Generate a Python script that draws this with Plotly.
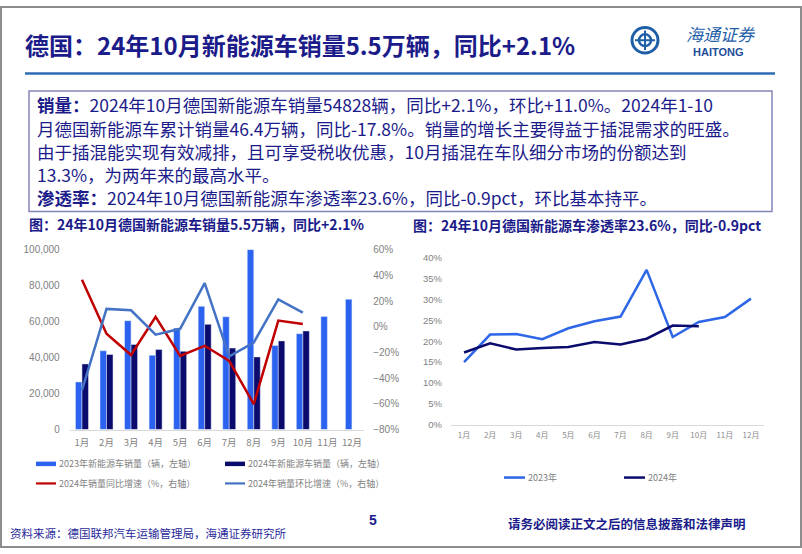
import plotly.graph_objects as go

# ---------------- data ----------------
months = ["1月", "2月", "3月", "4月", "5月", "6月", "7月", "8月", "9月", "10月", "11月", "12月"]
sales_2023 = [26500, 43800, 60500, 41300, 56400, 68500, 62700, 100000, 46700, 53300, 62900, 72400]
sales_2024 = [36500, 41800, 47300, 44500, 43500, 58500, 45300, 40400, 49300, 54828]
yoy_2024 = [0.366, -0.054, -0.22, 0.078, -0.227, -0.148, -0.265, -0.601, 0.048, 0.021]
mom_2024 = [-0.494, 0.139, 0.128, -0.062, -0.016, 0.34, -0.23, -0.123, 0.213, 0.11]
pen_2023 = [0.150, 0.216, 0.217, 0.205, 0.231, 0.248, 0.259, 0.371, 0.210, 0.246, 0.258, 0.302]
pen_2024 = [0.173, 0.195, 0.180, 0.184, 0.186, 0.198, 0.192, 0.206, 0.2375, 0.236]

left_ticks = [0, 20000, 40000, 60000, 80000, 100000]
right_ticks = [-0.8, -0.6, -0.4, -0.2, 0, 0.2, 0.4, 0.6]
pen_ticks = [0, 0.05, 0.10, 0.15, 0.20, 0.25, 0.30, 0.35, 0.40]

legend1 = ["2023年新能源车销量（辆，左轴）", "2024年新能源车销量（辆，左轴）",
           "2024年销量同比增速（%，右轴）", "2024年销量环比增速（%，右轴）"]
legend2 = ["2023年", "2024年"]

# ---------------- styles ----------------
W, H = 802, 554
C_BLUE = "#2B63F0"
C_NAVY = "#0B0B6E"
C_RED = "#C00000"
C_STEEL = "#4472C4"
C_P23 = "#2D66E6"
NAVY_TXT = "#1B1B8A"
GREY_TXT = "#7F7F7F"
FONT = "Liberation Sans, Noto Sans CJK SC"
CJK = "Noto Sans CJK SC, Liberation Sans"


def px(x):
    return x / W


def py(y):
    return (H - y) / H


fig = go.Figure()

# chart 1 bars
fig.add_trace(go.Bar(x=months, y=sales_2023, name=legend1[0], marker_color=C_BLUE,
                     xaxis="x", yaxis="y", showlegend=False))
fig.add_trace(go.Bar(x=months[:len(sales_2024)], y=sales_2024, name=legend1[1], marker_color=C_NAVY,
                     xaxis="x", yaxis="y", showlegend=False))
# chart 1 lines
fig.add_trace(go.Scatter(x=months[:len(yoy_2024)], y=yoy_2024, name=legend1[2], mode="lines",
                         line=dict(color=C_RED, width=2.5), xaxis="x", yaxis="y2", showlegend=False))
fig.add_trace(go.Scatter(x=months[:len(mom_2024)], y=mom_2024, name=legend1[3], mode="lines",
                         line=dict(color=C_STEEL, width=2.5), xaxis="x", yaxis="y2", showlegend=False))
# chart 2 lines
fig.add_trace(go.Scatter(x=months, y=pen_2023, name=legend2[0], mode="lines",
                         line=dict(color=C_P23, width=2.5), xaxis="x3", yaxis="y3", showlegend=False))
fig.add_trace(go.Scatter(x=months[:len(pen_2024)], y=pen_2024, name=legend2[1], mode="lines",
                         line=dict(color=C_NAVY, width=2.5), xaxis="x3", yaxis="y3", showlegend=False))

tickfont = dict(family=FONT, size=10, color=GREY_TXT)

fig.update_layout(
    width=W, height=H,
    margin=dict(l=0, r=0, t=0, b=0),
    paper_bgcolor="white", plot_bgcolor="rgba(0,0,0,0)",
    barmode="group", bargap=0.47, bargroupgap=0,
    xaxis=dict(domain=[px(69.7), px(364.2)], anchor="y", type="category",
               categoryorder="array", categoryarray=months, range=[-0.5, 11.5],
               showline=True, linecolor="#D9D9D9", linewidth=1, ticks="",
               showgrid=False, tickfont=dict(family=CJK, size=9.5, color=GREY_TXT),
               ticklabelstandoff=4, fixedrange=True),
    yaxis=dict(domain=[py(433), py(249)], range=[0, 100000], tickvals=left_ticks,
               tickformat=",", showgrid=False, zeroline=False, showline=False, ticks="",
               tickfont=tickfont, ticklabelstandoff=9),
    yaxis2=dict(domain=[py(433), py(249)], range=[-0.8, 0.6], tickvals=right_ticks,
                tickformat=".0%", overlaying="y", side="right", anchor="x",
                showgrid=False, zeroline=False, showline=False, ticks="",
                tickfont=tickfont, ticklabelstandoff=8),
    xaxis3=dict(domain=[px(451), px(764)], anchor="y3", type="category",
                categoryorder="array", categoryarray=months, range=[-0.5, 11.5],
                showline=True, linecolor="#D9D9D9", linewidth=1, ticks="", showgrid=False,
                tickfont=dict(family=CJK, size=8, color="#8C8C8C"), ticklabelstandoff=3),
    yaxis3=dict(domain=[py(428), py(257.3)], anchor="x3", range=[0, 0.4], tickvals=pen_ticks,
                tickformat=".0%", showgrid=False, zeroline=False, showline=False, ticks="",
                tickfont=dict(family=FONT, size=9.5, color=GREY_TXT), ticklabelstandoff=8),
)

shapes = []
ann = []


def text(t, x, y, size, color, anchor="left", family=CJK):
    ann.append(dict(text=t, x=px(x), y=py(y), xref="paper", yref="paper", xanchor=anchor,
                    yanchor="middle", showarrow=False, font=dict(family=family, size=size, color=color)))


def line(x0, y0, x1, y1, color, width):
    shapes.append(dict(type="line", xref="paper", yref="paper", x0=px(x0), x1=px(x1), y0=py(y0), y1=py(y1),
                       line=dict(color=color, width=width)))


# slide frame
shapes.append(dict(type="rect", xref="paper", yref="paper", x0=px(1), x1=px(801), y0=py(553), y1=py(1),
                   line=dict(color="#8C8C8C", width=2)))
# header rule
line(25, 69, 775, 69, "#2E6DB4", 2.5)
# text box
shapes.append(dict(type="rect", xref="paper", yref="paper", x0=px(29), x1=px(772), y0=py(210), y1=py(87),
                   line=dict(color="#8585B8", width=1.5)))

# title
text("<b>德国：24年10月新能源车销量5.5万辆，同比+2.1%</b>", 23, 39, 24, NAVY_TXT)

# logo
shapes.append(dict(type="circle", xref="paper", yref="paper", x0=px(632), x1=px(658), y0=py(48), y1=py(22),
                   line=dict(color="#1F5FA8", width=3)))
shapes.append(dict(type="circle", xref="paper", yref="paper", x0=px(639), x1=px(651), y0=py(41), y1=py(29),
                   line=dict(color="#1F5FA8", width=2.5)))
line(645, 45, 645, 25, "#1F5FA8", 2)
line(635, 35, 655, 35, "#1F5FA8", 2)
text("<i>海通证券</i>", 721, 28, 17, "#1F5FA8", "center")
text("<b>HAITONG</b>", 718, 47, 11, "#1F4E99", "center", FONT)

# body text
body = [
    ("<b>销量：</b>2024年10月德国新能源车销量54828辆，同比+2.1%，环比+11.0%。2024年1-10", 101),
    ("月德国新能源车累计销量46.4万辆，同比-17.8%。销量的增长主要得益于插混需求的旺盛。", 125),
    ("由于插混能实现有效减排，且可享受税收优惠，10月插混在车队细分市场的份额达到", 149),
    ("13.3%，为两年来的最高水平。", 172),
    ("<b>渗透率：</b>2024年10月德国新能源车渗透率23.6%，同比-0.9pct，环比基本持平。", 196),
]
for t, yy in body:
    text(t, 35, yy, 17.5, NAVY_TXT)

# chart titles
text("<b>图：24年10月德国新能源车销量5.5万辆，同比+2.1%</b>", 27, 223, 14, NAVY_TXT)
text("<b>图：24年10月德国新能源车渗透率23.6%，同比-0.9pct</b>", 411, 224, 14, NAVY_TXT)

# legend chart 1
leg1 = [(legend1[0], C_BLUE, 4.5, 36, 468), (legend1[1], C_NAVY, 4.5, 225, 468),
        (legend1[2], C_RED, 2.2, 36, 488), (legend1[3], C_STEEL, 2.2, 225, 488)]
for t, c, w, x0, yy in leg1:
    line(x0, yy, x0 + 20, yy, c, w)
    text(t, x0 + 21, yy, 9, GREY_TXT)

# legend chart 2
leg2 = [(legend2[0], C_P23, 504), (legend2[1], C_NAVY, 624)]
for t, c, x0 in leg2:
    line(x0, 482, x0 + 21, 482, c, 2.5)
    text(t, x0 + 22, 482, 9, GREY_TXT)

# footer
text("资料来源：德国联邦汽车运输管理局，海通证券研究所", 8, 539, 11.5, "#2A2A9A")
text("<b>5</b>", 373, 525, 14, NAVY_TXT, "center", FONT)
text("<b>请务必阅读正文之后的信息披露和法律声明</b>", 506, 529, 12.5, NAVY_TXT)

fig.update_layout(shapes=shapes, annotations=ann)
fig.write_html("out.html", config={"displayModeBar": False},
               post_script="document.body.style.margin='0';document.body.style.padding='0';")
